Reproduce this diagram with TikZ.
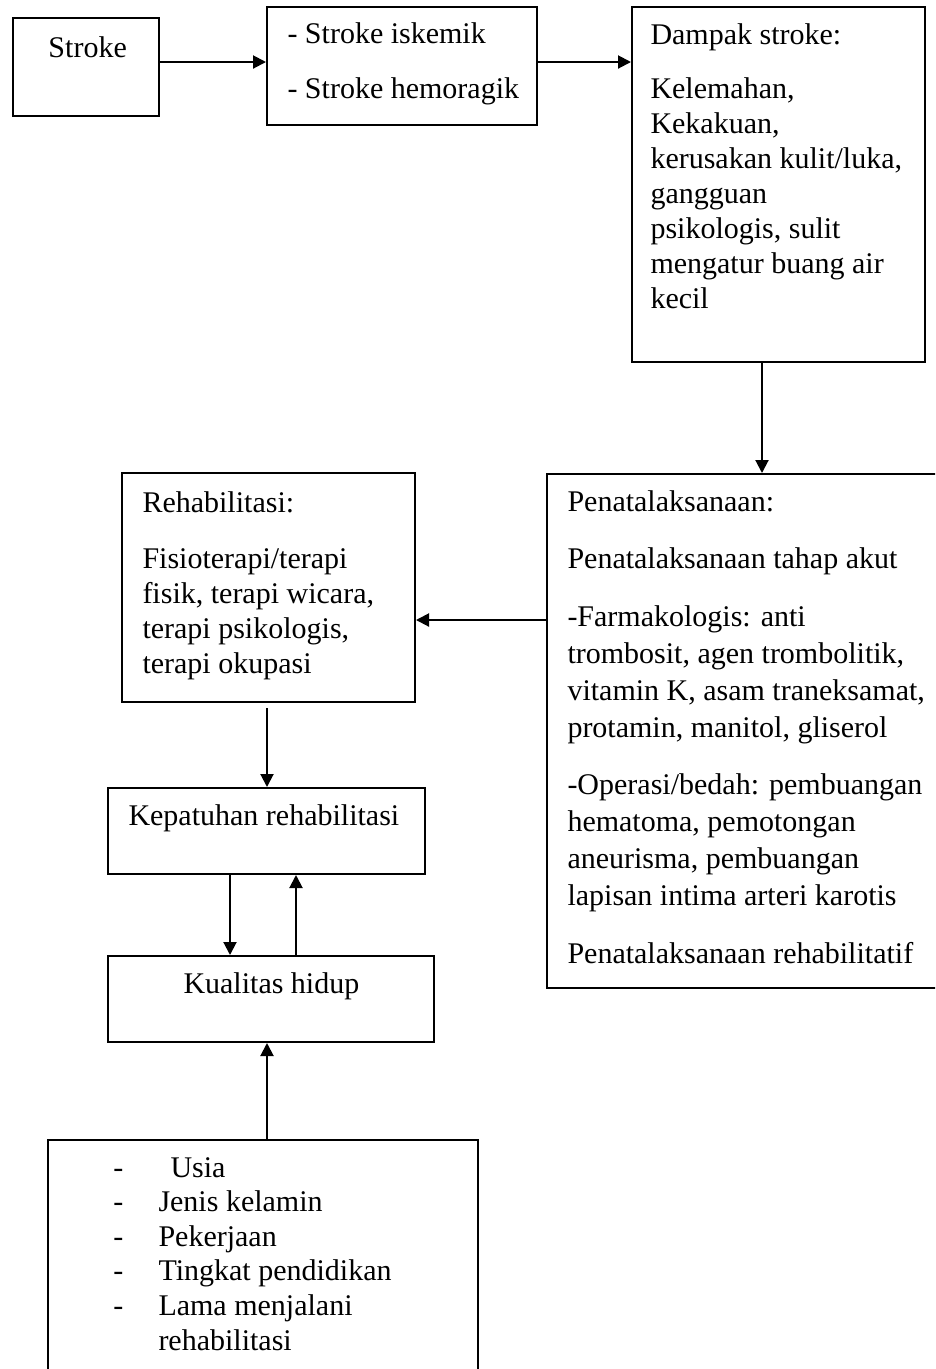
\documentclass[tikz,border=0pt]{standalone}
\usepackage{fontspec}
\setmainfont{Liberation Serif}
\usetikzlibrary{arrows.meta,fit}
\newcommand\vlines[2]{\vtop{\baselineskip=#1\lineskiplimit=-20pt\lineskip=0pt #2}}
\newcommand\tl[1]{\hbox{#1}}
\begin{document}
\begin{tikzpicture}[x=0.4pt,y=-0.4pt,
  box/.style={draw, line width=0.8pt, inner sep=0pt},
  txt/.style={inner sep=0pt, anchor=base west, font=\fontsize{12pt}{14pt}\selectfont},
  arr/.style={line width=0.8pt, -{Triangle[length=5.2pt,width=5.2pt]}}]
\useasboundingbox (0,0) rectangle (935,1369);
\clip (0,0) rectangle (935,1369);
% boxes
\node[box, fit={(13,18)(159,116)}] (stroke) {};
\node[box, fit={(267,7)(537,125)}] (types) {};
\node[box, fit={(632,7)(925,362)}] (dampak) {};
\node[box, fit={(547,474)(950,988)}] (pena) {};
\node[box, fit={(122,473)(415,702)}] (rehab) {};
\node[box, fit={(108,788)(425,874)}] (patuh) {};
\node[box, fit={(108,956)(434,1042)}] (kualitas) {};
\node[box, fit={(48,1140)(478,1400)}] (faktor) {};
% texts
\node[txt] (tStroke) at (48,57) {Stroke};
\node[txt] (tTypes) at (287,43) {\vlines{22pt}{\tl{- Stroke iskemik}\tl{- Stroke hemoragik}}};
\node[txt] (tDampak1) at (650,44) {Dampak stroke:};
\node[txt] (tDampak2) at (650,98) {\vlines{14pt}{\tl{Kelemahan,}\tl{Kekakuan,}\tl{kerusakan kulit/luka,}\tl{gangguan}\tl{psikologis, sulit}\tl{mengatur buang air}\tl{kecil}}};
\node[txt] (tPena1) at (567,511) {Penatalaksanaan:};
\node[txt] (tPena2) at (567,568) {Penatalaksanaan tahap akut};
\node[txt] (tPena3) at (567,626) {\vlines{14.8pt}{\tl{-Farmakologis: anti}\tl{trombosit, agen trombolitik,}\tl{vitamin K, asam traneksamat,}\tl{protamin, manitol, gliserol}}};
\node[txt] (tPena4) at (567,794) {\vlines{14.8pt}{\tl{-Operasi/bedah: pembuangan}\tl{hematoma, pemotongan}\tl{aneurisma, pembuangan}\tl{lapisan intima arteri karotis}}};
\node[txt] (tPena5) at (567,963) {Penatalaksanaan rehabilitatif};
\node[txt] (tRehab1) at (142,512) {Rehabilitasi:};
\node[txt] (tRehab2) at (142,568) {\vlines{14pt}{\tl{Fisioterapi/terapi}\tl{fisik, terapi wicara,}\tl{terapi psikologis,}\tl{terapi okupasi}}};
\node[txt] (tPatuh) at (128,825) {Kepatuhan rehabilitasi};
\node[txt] (tKual) at (183,993) {Kualitas hidup};
\node[txt] (tDash) at (113,1177) {\vlines{13.84pt}{\tl{-}\tl{-}\tl{-}\tl{-}\tl{-}}};
\node[txt] (tUsia) at (170,1177) {Usia};
\node[txt] (tFaktor) at (158,1211.6) {\vlines{13.84pt}{\tl{Jenis kelamin}\tl{Pekerjaan}\tl{Tingkat pendidikan}\tl{Lama menjalani}\tl{rehabilitasi}}};
% connectors
\coordinate (yA) at (0,62);
\coordinate (yB) at (0,620);
\coordinate (xC) at (762,0);
\coordinate (xD) at (267,0);
\coordinate (xE) at (230,0);
\coordinate (xF) at (296,0);
\draw[arr] (yA -| stroke.east) -- (yA -| types.west);
\draw[arr] (yA -| types.east) -- (yA -| dampak.west);
\draw[arr] (xC |- dampak.south) -- (xC |- pena.north);
\draw[arr] (yB -| pena.west) -- (yB -| rehab.east);
\draw[arr, shorten <=2pt] (xD |- rehab.south) -- (xD |- patuh.north);
\draw[arr] (xE |- patuh.south) -- (xE |- kualitas.north);
\draw[arr] (xF |- kualitas.north) -- (xF |- patuh.south);
\draw[arr] (xD |- faktor.north) -- (xD |- kualitas.south);
\end{tikzpicture}
\end{document}
